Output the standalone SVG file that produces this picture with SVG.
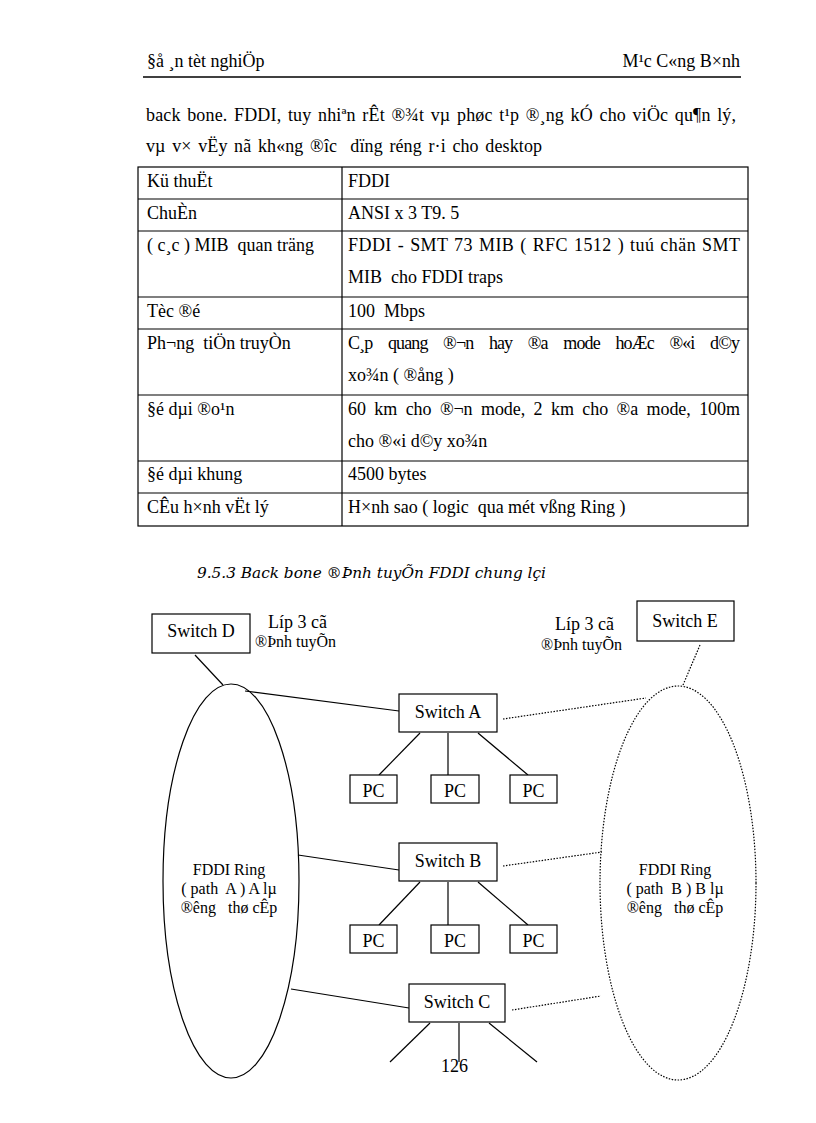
<svg xmlns="http://www.w3.org/2000/svg" width="816" height="1123" viewBox="0 0 816 1123">
<style>
text{font-family:"Liberation Serif","Times New Roman",serif;fill:#000;white-space:pre}
.t{font-size:18px}
.d{font-size:18px}
.s{font-size:16px}
.box{fill:#fff;stroke:#000;stroke-width:1.2}
.ln{stroke:#000;stroke-width:1.2;fill:none}
.dot{stroke:#000;stroke-width:1.2;fill:none;stroke-dasharray:1.5 1.5}
.c{text-anchor:middle}
</style>
<rect width="816" height="1123" fill="#fff"/>
<!-- header -->
<text class="t" x="147" y="67">§å ¸n tèt nghiÖp</text>
<text class="t" x="740" y="67" text-anchor="end">M¹c C«ng B×nh</text>
<line x1="143" y1="77" x2="741" y2="77" stroke="#000" stroke-width="1.5"/>
<!-- body -->
<text class="t" x="146" y="121" word-spacing="2" textLength="590" lengthAdjust="spacing">back bone. FDDI, tuy nhiªn rÊt ®¾t vµ phøc t¹p ®¸ng kÓ cho viÖc qu¶n lý,</text>
<text class="t" x="146" y="152" word-spacing="2" textLength="396" lengthAdjust="spacing" xml:space="preserve">vµ v× vËy nã kh«ng ®îc  dïng réng r·i cho desktop</text>
<!-- table -->
<g id="table" fill="none" stroke="#000" stroke-width="1.2">
<rect x="138" y="167" width="610" height="359"/>
<line x1="342" y1="167" x2="342" y2="526"/>
<line x1="138" y1="199" x2="748" y2="199"/>
<line x1="138" y1="231" x2="748" y2="231"/>
<line x1="138" y1="297" x2="748" y2="297"/>
<line x1="138" y1="329" x2="748" y2="329"/>
<line x1="138" y1="395" x2="748" y2="395"/>
<line x1="138" y1="461" x2="748" y2="461"/>
<line x1="138" y1="493" x2="748" y2="493"/>
</g>
<g id="table-text">
<text class="t" x="147" y="187">Kü thuËt</text>
<text class="t" x="348" y="187">FDDI</text>
<text class="t" x="147" y="219">ChuÈn</text>
<text class="t" x="348" y="219">ANSI x 3 T9. 5</text>
<text class="t" x="147" y="251" xml:space="preserve">( c¸c ) MIB  quan träng</text>
<text class="t" x="348" y="251" word-spacing="1" textLength="392" lengthAdjust="spacing">FDDI - SMT 73 MIB ( RFC 1512 ) tuú chän SMT</text>
<text class="t" x="348" y="283" xml:space="preserve">MIB  cho FDDI traps</text>
<text class="t" x="147" y="317">Tèc ®é</text>
<text class="t" x="348" y="317" xml:space="preserve">100  Mbps</text>
<text class="t" x="147" y="349" xml:space="preserve">Ph¬ng  tiÖn truyÒn</text>
<text class="t" x="348" y="349" word-spacing="12" textLength="392" lengthAdjust="spacing">C¸p quang ®¬n hay ®a mode hoÆc ®«i d©y</text>
<text class="t" x="348" y="381">xo¾n ( ®ång )</text>
<text class="t" x="147" y="415">§é dµi ®o¹n</text>
<text class="t" x="348" y="415" word-spacing="4" textLength="392" lengthAdjust="spacing">60 km cho ®¬n mode, 2 km cho ®a mode, 100m</text>
<text class="t" x="348" y="447">cho ®«i d©y xo¾n</text>
<text class="t" x="147" y="480">§é dµi khung</text>
<text class="t" x="348" y="480">4500 bytes</text>
<text class="t" x="147" y="513">CÊu h×nh vËt lý</text>
<text class="t" x="348" y="513" xml:space="preserve">H×nh sao ( logic  qua mét vßng Ring )</text>
</g>
<!-- caption -->
<text x="197" y="578" font-size="15.3" font-style="italic" style="font-family:'DejaVu Serif',serif">9.5.3 Back bone ®Þnh tuyÕn FDDI chung lçi</text>
<!-- connectors -->
<g id="connectors">
<line class="ln" x1="195" y1="655" x2="223" y2="685"/>
<line class="dot" x1="700" y1="645" x2="683" y2="685"/>
<line class="ln" x1="245" y1="691" x2="399" y2="711"/>
<line class="dot" x1="503" y1="719" x2="646" y2="698"/>
<line class="ln" x1="420" y1="733" x2="379" y2="775"/>
<line class="ln" x1="448" y1="733" x2="448" y2="775"/>
<line class="ln" x1="478" y1="733" x2="528" y2="775"/>
<line class="ln" x1="298" y1="855" x2="399" y2="870"/>
<line class="dot" x1="503" y1="866" x2="602" y2="852"/>
<line class="ln" x1="420" y1="882" x2="379" y2="925"/>
<line class="ln" x1="448" y1="882" x2="448" y2="925"/>
<line class="ln" x1="478" y1="882" x2="528" y2="925"/>
<line class="ln" x1="291" y1="989" x2="409" y2="1008"/>
<line class="dot" x1="512" y1="1010" x2="601" y2="996"/>
<line class="ln" x1="430" y1="1023" x2="390" y2="1062"/>
<line class="ln" x1="459" y1="1023" x2="459" y2="1062"/>
<line class="ln" x1="489" y1="1023" x2="537" y2="1062"/>
</g>
<!-- rings -->
<g id="ringA">
<ellipse class="ln" cx="231" cy="881" rx="68" ry="197"/>
<text class="s c" x="229" y="875">FDDI Ring</text>
<text class="s c" x="229" y="894" xml:space="preserve">( path  A ) A lµ</text>
<text class="s c" x="229" y="913" xml:space="preserve">®êng   thø cÊp</text>
</g>
<g id="ringB">
<ellipse class="dot" cx="678" cy="883" rx="78" ry="197"/>
<text class="s c" x="675" y="875">FDDI Ring</text>
<text class="s c" x="675" y="894" xml:space="preserve">( path  B ) B lµ</text>
<text class="s c" x="675" y="913" xml:space="preserve">®êng   thø cÊp</text>
</g>
<g id="switchD">
<rect class="box" x="152" y="614" width="98" height="39"/>
<text class="d c" x="201" y="637">Switch D</text>
</g>
<g id="labelD">
<text class="d" x="268" y="628">Líp 3 cã</text>
<text class="s" x="255" y="647">®Þnh tuyÕn</text>
</g>
<g id="switchE">
<rect class="box" x="637" y="601" width="97" height="40"/>
<text class="d c" x="685" y="627">Switch E</text>
</g>
<g id="labelE">
<text class="d" x="555" y="630">Líp 3 cã</text>
<text class="s" x="541" y="650">®Þnh tuyÕn</text>
</g>
<g id="switchA">
<rect class="box" x="399" y="694" width="98" height="38"/>
<text class="d c" x="448" y="718">Switch A</text>
</g>
<g id="pcA1"><rect class="box" x="350" y="775" width="47" height="28"/><text class="d c" x="373.5" y="797">PC</text></g>
<g id="pcA2"><rect class="box" x="431" y="775" width="48" height="28"/><text class="d c" x="455" y="797">PC</text></g>
<g id="pcA3"><rect class="box" x="510" y="775" width="47" height="28"/><text class="d c" x="533.5" y="797">PC</text></g>
<g id="switchB">
<rect class="box" x="399" y="843" width="98" height="38"/>
<text class="d c" x="448" y="867">Switch B</text>
</g>
<g id="pcB1"><rect class="box" x="350" y="925" width="47" height="28"/><text class="d c" x="373.5" y="947">PC</text></g>
<g id="pcB2"><rect class="box" x="431" y="925" width="48" height="28"/><text class="d c" x="455" y="947">PC</text></g>
<g id="pcB3"><rect class="box" x="510" y="925" width="47" height="28"/><text class="d c" x="533.5" y="947">PC</text></g>
<g id="switchC">
<rect class="box" x="409" y="984" width="96" height="38"/>
<text class="d c" x="457" y="1008">Switch C</text>
</g>
<text class="t" x="441" y="1072">126</text>
</svg>
